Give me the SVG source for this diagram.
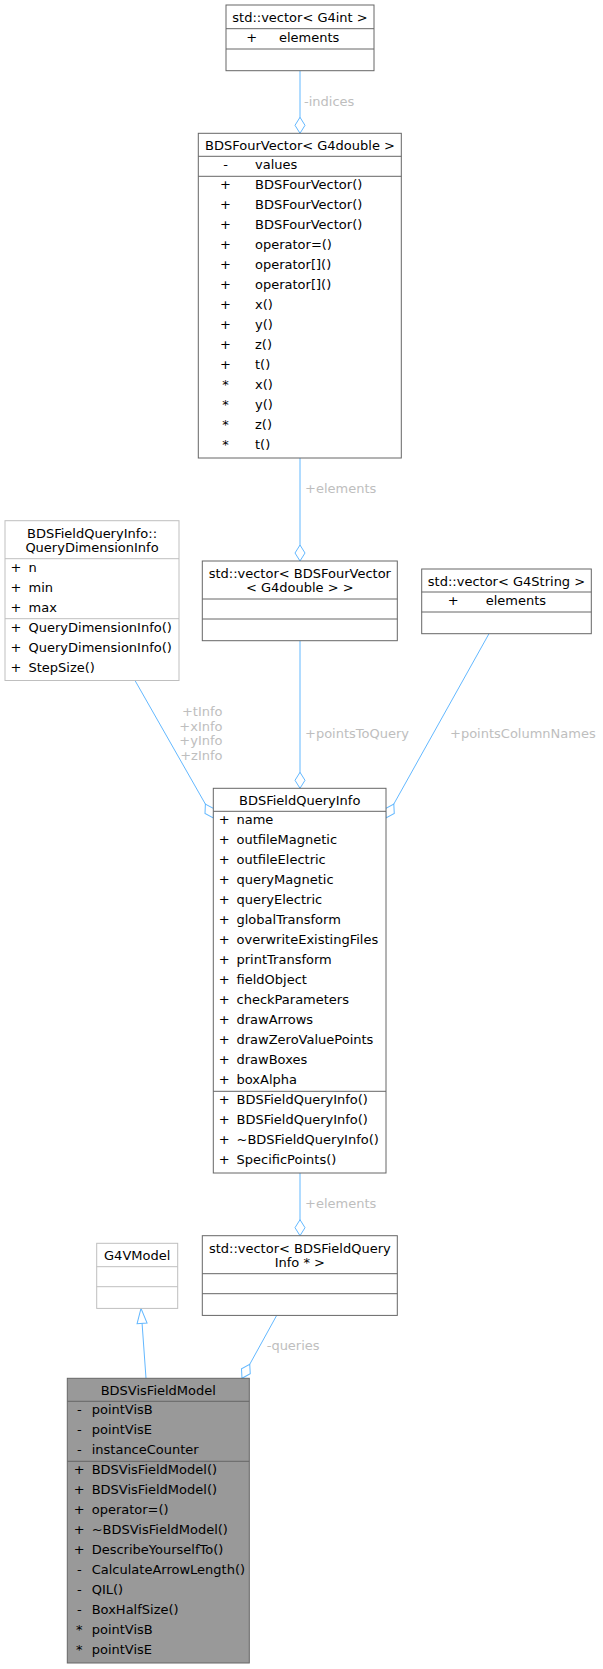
<svg xmlns="http://www.w3.org/2000/svg" width="603" height="1669" viewBox="0 0 603 1669">
<style>
text{font-family:"DejaVu Sans","Liberation Sans",sans-serif;font-size:13px;fill:#000}
.c{text-anchor:middle}
.lbl{fill:#bebebe}
.lblr{fill:#bebebe;text-anchor:end}
.box{fill:#fff;stroke:#666;stroke-width:1}
.ext{fill:#fff;stroke:#bfbfbf;stroke-width:1}
.main{fill:#999;stroke:#666;stroke-width:1}
.s{stroke:#666;stroke-width:1}
.se{stroke:#bfbfbf;stroke-width:1}
.e{stroke:#63b8ff;stroke-width:1;fill:none}
.agg{marker-end:url(#diamond)}
.inh{marker-end:url(#tri)}
</style>
<defs>
<marker id="diamond" markerUnits="userSpaceOnUse" viewBox="-1 -7 19 14" markerWidth="19" markerHeight="14" refX="16" refY="0" orient="auto">
<path d="M0,0 L8,-5 L16,0 L8,5 Z" fill="#fff" stroke="#63b8ff" stroke-width="1"/>
</marker>
<marker id="tri" markerUnits="userSpaceOnUse" viewBox="-1 -7 18 14" markerWidth="18" markerHeight="14" refX="15" refY="0" orient="auto">
<path d="M0,-5 L15,0 L0,5 Z" fill="#fff" stroke="#63b8ff" stroke-width="1"/>
</marker>
</defs>

<g id="connectors">
<path class="e agg" d="M300,70.7 L300,133.3"/>
<path class="e agg" d="M300,458 L300,561"/>
<path class="e agg" d="M300,640.7 L300,788.3"/>
<path class="e agg" d="M489,633.7 L386,818"/>
<path class="e agg" d="M135,680.5 L213.3,818"/>
<path class="e agg" d="M300,1173 L300,1235.7"/>
<path class="e agg" d="M276.7,1315.4 L242,1378.3"/>
<path class="e inh" d="M146,1378.3 L141,1308.4"/>
<text class="lbl" x="304" y="105.5">-indices</text>
<text class="lbl" x="305" y="493">+elements</text>
<text class="lbl" x="305" y="738">+pointsToQuery</text>
<text class="lbl" x="450" y="738">+pointsColumnNames</text>
<text class="lblr" x="222.5" y="716">+tInfo</text>
<text class="lblr" x="222.5" y="730.5">+xInfo</text>
<text class="lblr" x="222.5" y="745">+yInfo</text>
<text class="lblr" x="222.5" y="759.5">+zInfo</text>
<text class="lbl" x="305" y="1208">+elements</text>
<text class="lbl" x="266.7" y="1350">-queries</text>
</g>

<g id="node-vector-G4int">
<rect class="box" x="226" y="5" width="148" height="65.7"/>
<line class="s" x1="226" y1="28.7" x2="374" y2="28.7"/>
<line class="s" x1="226" y1="49" x2="374" y2="49"/>
<text class="c" x="300" y="21.7">std::vector&lt; G4int &gt;</text>
<text class="c" x="251.7" y="42">+</text>
<text x="279" y="42">elements</text>
</g>

<g id="node-BDSFourVector">
<rect class="box" x="198.3" y="133.3" width="203" height="324.7"/>
<line class="s" x1="198.3" y1="156.3" x2="401.3" y2="156.3"/>
<line class="s" x1="198.3" y1="176.3" x2="401.3" y2="176.3"/>
<text class="c" x="300" y="150">BDSFourVector&lt; G4double &gt;</text>
<text class="c" x="225.5" y="169.3">-</text><text x="255" y="169.3">values</text>
<text class="c" x="225.5" y="189.3">+</text><text x="255" y="189.3">BDSFourVector()</text>
<text class="c" x="225.5" y="209.3">+</text><text x="255" y="209.3">BDSFourVector()</text>
<text class="c" x="225.5" y="229.3">+</text><text x="255" y="229.3">BDSFourVector()</text>
<text class="c" x="225.5" y="249.3">+</text><text x="255" y="249.3">operator=()</text>
<text class="c" x="225.5" y="269.3">+</text><text x="255" y="269.3">operator[]()</text>
<text class="c" x="225.5" y="289.3">+</text><text x="255" y="289.3">operator[]()</text>
<text class="c" x="225.5" y="309.3">+</text><text x="255" y="309.3">x()</text>
<text class="c" x="225.5" y="329.3">+</text><text x="255" y="329.3">y()</text>
<text class="c" x="225.5" y="349.3">+</text><text x="255" y="349.3">z()</text>
<text class="c" x="225.5" y="369.3">+</text><text x="255" y="369.3">t()</text>
<text class="c" x="225.5" y="389.3">*</text><text x="255" y="389.3">x()</text>
<text class="c" x="225.5" y="409.3">*</text><text x="255" y="409.3">y()</text>
<text class="c" x="225.5" y="429.3">*</text><text x="255" y="429.3">z()</text>
<text class="c" x="225.5" y="449.3">*</text><text x="255" y="449.3">t()</text>
</g>

<g id="node-QueryDimensionInfo">
<rect class="ext" x="5" y="520.7" width="174" height="159.8"/>
<line class="se" x1="5" y1="558.7" x2="179" y2="558.7"/>
<line class="se" x1="5" y1="618.7" x2="179" y2="618.7"/>
<text class="c" x="92" y="537.7">BDSFieldQueryInfo::</text>
<text class="c" x="92" y="551.7">QueryDimensionInfo</text>
<text class="c" x="16" y="571.7">+</text><text x="28.5" y="571.7">n</text>
<text class="c" x="16" y="591.7">+</text><text x="28.5" y="591.7">min</text>
<text class="c" x="16" y="611.7">+</text><text x="28.5" y="611.7">max</text>
<text class="c" x="16" y="631.7">+</text><text x="28.5" y="631.7">QueryDimensionInfo()</text>
<text class="c" x="16" y="651.7">+</text><text x="28.5" y="651.7">QueryDimensionInfo()</text>
<text class="c" x="16" y="671.7">+</text><text x="28.5" y="671.7">StepSize()</text>
</g>

<g id="node-vector-BDSFourVector">
<rect class="box" x="202.3" y="561" width="195" height="79.7"/>
<line class="s" x1="202.3" y1="599" x2="397.3" y2="599"/>
<line class="s" x1="202.3" y1="619" x2="397.3" y2="619"/>
<text class="c" x="299.8" y="578">std::vector&lt; BDSFourVector</text>
<text class="c" x="299.8" y="592">&lt; G4double &gt; &gt;</text>
</g>

<g id="node-vector-G4String">
<rect class="box" x="421.7" y="569" width="169.6" height="64.7"/>
<line class="s" x1="421.7" y1="592" x2="591.3" y2="592"/>
<line class="s" x1="421.7" y1="612" x2="591.3" y2="612"/>
<text class="c" x="506.5" y="585.7">std::vector&lt; G4String &gt;</text>
<text class="c" x="453.3" y="605">+</text>
<text x="485.7" y="605">elements</text>
</g>

<g id="node-BDSFieldQueryInfo">
<rect class="box" x="213.3" y="788.3" width="172.7" height="384.7"/>
<line class="s" x1="213.3" y1="811.3" x2="386" y2="811.3"/>
<line class="s" x1="213.3" y1="1091.3" x2="386" y2="1091.3"/>
<text class="c" x="299.7" y="805">BDSFieldQueryInfo</text>
<text class="c" x="224.3" y="824.3">+</text><text x="236.5" y="824.3">name</text>
<text class="c" x="224.3" y="844.3">+</text><text x="236.5" y="844.3">outfileMagnetic</text>
<text class="c" x="224.3" y="864.3">+</text><text x="236.5" y="864.3">outfileElectric</text>
<text class="c" x="224.3" y="884.3">+</text><text x="236.5" y="884.3">queryMagnetic</text>
<text class="c" x="224.3" y="904.3">+</text><text x="236.5" y="904.3">queryElectric</text>
<text class="c" x="224.3" y="924.3">+</text><text x="236.5" y="924.3">globalTransform</text>
<text class="c" x="224.3" y="944.3">+</text><text x="236.5" y="944.3">overwriteExistingFiles</text>
<text class="c" x="224.3" y="964.3">+</text><text x="236.5" y="964.3">printTransform</text>
<text class="c" x="224.3" y="984.3">+</text><text x="236.5" y="984.3">fieldObject</text>
<text class="c" x="224.3" y="1004.3">+</text><text x="236.5" y="1004.3">checkParameters</text>
<text class="c" x="224.3" y="1024.3">+</text><text x="236.5" y="1024.3">drawArrows</text>
<text class="c" x="224.3" y="1044.3">+</text><text x="236.5" y="1044.3">drawZeroValuePoints</text>
<text class="c" x="224.3" y="1064.3">+</text><text x="236.5" y="1064.3">drawBoxes</text>
<text class="c" x="224.3" y="1084.3">+</text><text x="236.5" y="1084.3">boxAlpha</text>
<text class="c" x="224.3" y="1104.3">+</text><text x="236.5" y="1104.3">BDSFieldQueryInfo()</text>
<text class="c" x="224.3" y="1124.3">+</text><text x="236.5" y="1124.3">BDSFieldQueryInfo()</text>
<text class="c" x="224.3" y="1144.3">+</text><text x="236.5" y="1144.3">~BDSFieldQueryInfo()</text>
<text class="c" x="224.3" y="1164.3">+</text><text x="236.5" y="1164.3">SpecificPoints()</text>
</g>

<g id="node-G4VModel">
<rect class="ext" x="96.7" y="1243.3" width="81" height="65.1"/>
<line class="se" x1="96.7" y1="1266.7" x2="177.7" y2="1266.7"/>
<line class="se" x1="96.7" y1="1286.7" x2="177.7" y2="1286.7"/>
<text class="c" x="137.2" y="1260">G4VModel</text>
</g>

<g id="node-vector-BDSFieldQueryInfo">
<rect class="box" x="202.3" y="1235.7" width="195" height="79.7"/>
<line class="s" x1="202.3" y1="1273.7" x2="397.3" y2="1273.7"/>
<line class="s" x1="202.3" y1="1293.7" x2="397.3" y2="1293.7"/>
<text class="c" x="299.8" y="1252.7">std::vector&lt; BDSFieldQuery</text>
<text class="c" x="299.8" y="1266.7">Info * &gt;</text>
</g>

<g id="node-BDSVisFieldModel">
<rect class="main" x="67.3" y="1378.3" width="182" height="284.7"/>
<line class="s" x1="67.3" y1="1401.3" x2="249.3" y2="1401.3"/>
<line class="s" x1="67.3" y1="1461.3" x2="249.3" y2="1461.3"/>
<text class="c" x="158.3" y="1395">BDSVisFieldModel</text>
<text class="c" x="79.3" y="1414.3">-</text><text x="91.7" y="1414.3">pointVisB</text>
<text class="c" x="79.3" y="1434.3">-</text><text x="91.7" y="1434.3">pointVisE</text>
<text class="c" x="79.3" y="1454.3">-</text><text x="91.7" y="1454.3">instanceCounter</text>
<text class="c" x="79.3" y="1474.3">+</text><text x="91.7" y="1474.3">BDSVisFieldModel()</text>
<text class="c" x="79.3" y="1494.3">+</text><text x="91.7" y="1494.3">BDSVisFieldModel()</text>
<text class="c" x="79.3" y="1514.3">+</text><text x="91.7" y="1514.3">operator=()</text>
<text class="c" x="79.3" y="1534.3">+</text><text x="91.7" y="1534.3">~BDSVisFieldModel()</text>
<text class="c" x="79.3" y="1554.3">+</text><text x="91.7" y="1554.3">DescribeYourselfTo()</text>
<text class="c" x="79.3" y="1574.3">-</text><text x="91.7" y="1574.3">CalculateArrowLength()</text>
<text class="c" x="79.3" y="1594.3">-</text><text x="91.7" y="1594.3">QIL()</text>
<text class="c" x="79.3" y="1614.3">-</text><text x="91.7" y="1614.3">BoxHalfSize()</text>
<text class="c" x="79.3" y="1634.3">*</text><text x="91.7" y="1634.3">pointVisB</text>
<text class="c" x="79.3" y="1654.3">*</text><text x="91.7" y="1654.3">pointVisE</text>
</g>
</svg>
